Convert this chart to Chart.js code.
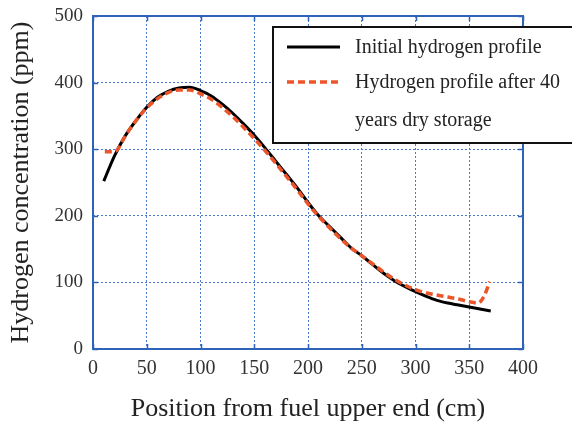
<!DOCTYPE html>
<html>
<head>
<meta charset="utf-8">
<script src="https://cdn.jsdelivr.net/npm/chart.js@4.4.0/dist/chart.umd.min.js"></script>
<style>
  html, body { margin: 0; padding: 0; background: #fff; }
  #wrap { width: 572px; height: 428px; position: relative; }
</style>
</head>
<body>
<div id="wrap"><canvas id="c" width="572" height="428"></canvas></div>
<script>
// ---- data ----
const initialX = [10, 20, 30, 40, 50, 60, 70, 80, 90, 100, 110, 120, 130, 140, 150, 160, 170, 180, 190, 200, 210, 220, 230, 240, 250, 260, 270, 280, 290, 300, 310, 320, 330, 340, 350, 360, 370];
const initialY = [252, 290, 320, 343, 363, 378, 387, 392, 393, 388, 380, 368, 354, 338, 321, 302, 282, 262, 242, 220, 200, 184, 168, 152, 140, 127, 114, 103, 94, 86, 79, 73, 69, 66, 63, 60, 57];
const storedX = [11, 18, 22, 30, 40, 50, 60, 70, 80, 90, 100, 110, 120, 130, 140, 150, 160, 170, 180, 190, 200, 210, 220, 230, 240, 250, 260, 270, 280, 290, 300, 310, 320, 330, 340, 350, 358, 364, 369];
const storedY = [296, 296, 298, 320, 343, 362, 376, 385, 389, 389, 383, 375, 363, 349, 333, 316, 298, 279, 259, 239, 218, 199, 182, 166, 152, 140, 128, 116, 105, 96, 89, 84, 81, 78, 75, 71, 69, 80, 101];
const xTicks = [0, 50, 100, 150, 200, 250, 300, 350, 400];
const yTicks = [0, 100, 200, 300, 400, 500];
const seriesNames = ["Initial hydrogen profile", "Hydrogen profile after 40 years dry storage"];
const legendLines = [["Initial hydrogen profile"], ["Hydrogen profile after 40", "years dry storage"]];
const xTitle = "Position from fuel upper end (cm)";
const yTitle = "Hydrogen concentration (ppm)";

const BLUE = "#2f63b8";
const GRID = "#4a7bcc";
const SERIF = "'Liberation Serif', 'Times New Roman', serif";

function pts(xs, ys) { return xs.map((x, i) => ({ x: x, y: ys[i] })); }

const framePlugin = {
  id: 'frame',
  afterDatasetsDraw(chart) {
    const { ctx, chartArea: a, scales } = chart;
    ctx.save();
    ctx.strokeStyle = BLUE;
    ctx.lineWidth = 1.5;
    const tl = 5;
    xTicks.forEach(v => {
      const px = Math.round(scales.x.getPixelForValue(v)) + 0.5;
      ctx.beginPath();
      ctx.moveTo(px, a.bottom); ctx.lineTo(px, a.bottom - tl);
      ctx.moveTo(px, a.top); ctx.lineTo(px, a.top + tl);
      ctx.stroke();
    });
    yTicks.forEach(v => {
      const py = Math.round(scales.y.getPixelForValue(v)) + 0.5;
      ctx.beginPath();
      ctx.moveTo(a.left, py); ctx.lineTo(a.left + tl, py);
      ctx.moveTo(a.right, py); ctx.lineTo(a.right - tl, py);
      ctx.stroke();
    });
    ctx.lineWidth = 2;
    ctx.strokeRect(a.left, a.top, a.right - a.left, a.bottom - a.top);
    ctx.restore();
  },
  afterDraw(chart) {
    const { ctx } = chart;
    ctx.save();
    const bx = 273, by = 27, bw = 310, bh = 116;
    ctx.fillStyle = "#fff";
    ctx.fillRect(bx, by, bw, bh);
    ctx.strokeStyle = "#111";
    ctx.lineWidth = 2;
    ctx.strokeRect(bx, by, bw, bh);
    const ds = chart.data.datasets;
    const rows = [47, 82];
    ctx.font = "20px " + SERIF;
    ctx.textBaseline = "middle";
    ctx.fillStyle = "#222";
    ds.forEach((d, i) => {
      const y = rows[i];
      ctx.beginPath();
      ctx.strokeStyle = d.borderColor;
      ctx.lineWidth = d.borderWidth;
      ctx.setLineDash(d.borderDash || []);
      ctx.moveTo(287, y); ctx.lineTo(340, y);
      ctx.stroke();
      ctx.setLineDash([]);
      legendLines[i].forEach((t, j) => {
        ctx.fillText(t, 355, y + 1 + j * 38);
      });
    });
    ctx.restore();
  }
};

new Chart(document.getElementById('c'), {
  type: 'scatter',
  data: {
    datasets: [
      {
        label: seriesNames[0],
        data: pts(initialX, initialY),
        showLine: true,
        borderColor: "#000",
        borderWidth: 3,
        pointRadius: 0,
        tension: 0.4,
        cubicInterpolationMode: 'monotone',
        order: 2
      },
      {
        label: seriesNames[1],
        data: pts(storedX, storedY),
        showLine: true,
        borderColor: "#ec552a",
        borderWidth: 3.5,
        borderDash: [7, 4],
        pointRadius: 0,
        tension: 0.4,
        cubicInterpolationMode: 'monotone',
        order: 1
      }
    ]
  },
  options: {
    responsive: false,
    animation: false,
    devicePixelRatio: 1,
    layout: { padding: { left: 0, right: 49, top: 16, bottom: 0 } },
    plugins: { legend: { display: false }, tooltip: { enabled: false } },
    scales: {
      x: {
        type: 'linear',
        min: 0, max: 400,
        afterBuildTicks: s => { s.ticks = xTicks.map(v => ({ value: v })); },
        afterFit: s => { s.height = 79; s.paddingLeft = 0; s.paddingRight = 0; },
        grid: { color: GRID, lineWidth: 1, drawTicks: false },
        border: { display: false, dash: [2, 2] },
        ticks: { color: "#333", font: { family: SERIF, size: 20 }, padding: 8, maxRotation: 0 },
        title: { display: true, text: xTitle, color: "#222", font: { family: SERIF, size: 26 }, padding: { top: 4, bottom: 3 } }
      },
      y: {
        type: 'linear',
        min: 0, max: 500,
        afterBuildTicks: s => { s.ticks = yTicks.map(v => ({ value: v })); },
        afterFit: s => { s.width = 93; s.paddingTop = 0; s.paddingBottom = 0; },
        grid: { color: GRID, lineWidth: 1, drawTicks: false },
        border: { display: false, dash: [2, 2] },
        ticks: { color: "#333", font: { family: SERIF, size: 19 }, padding: 10 },
        title: { display: true, text: yTitle, color: "#222", font: { family: SERIF, size: 26 }, padding: { top: 6, bottom: 4 } }
      }
    }
  },
  plugins: [framePlugin]
});
</script>
</body>
</html>
